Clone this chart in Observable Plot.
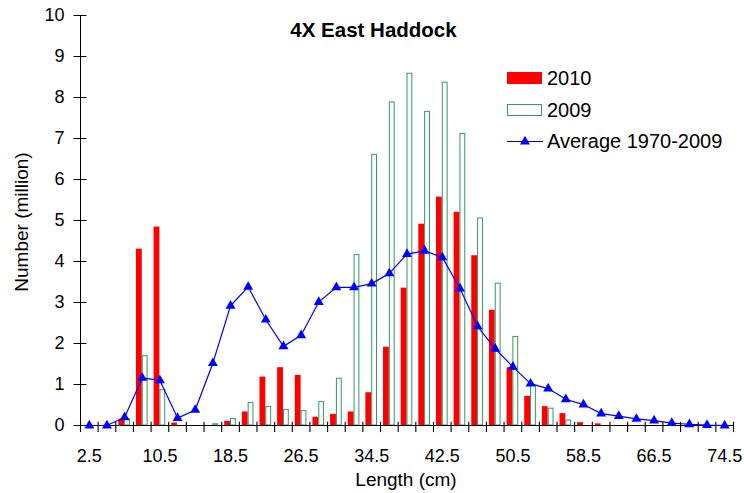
<!DOCTYPE html>
<html><head><meta charset="utf-8">
<script src="https://cdn.jsdelivr.net/npm/d3@7"></script>
<script src="https://cdn.jsdelivr.net/npm/@observablehq/plot@0.6"></script>
<style>
body{margin:0;background:#fff;}
#chart{position:relative;width:744px;height:493px;}
svg{font-family:"Liberation Sans",Arial,sans-serif;}
</style></head><body><div id="chart"></div>
<script>
const title = "4X East Haddock";
const xLabel = "Length (cm)";
const yLabel = "Number (million)";
const seriesNames = ["2010", "2009", "Average 1970-2009"];
const lengths = [2.5, 4.5, 6.5, 8.5, 10.5, 12.5, 14.5, 16.5, 18.5, 20.5, 22.5, 24.5, 26.5, 28.5, 30.5, 32.5, 34.5, 36.5, 38.5, 40.5, 42.5, 44.5, 46.5, 48.5, 50.5, 52.5, 54.5, 56.5, 58.5, 60.5, 62.5, 64.5, 66.5, 68.5, 70.5, 72.5, 74.5];
const n2010 = [0, 0, 0.15, 4.30, 4.84, 0.06, 0, 0, 0.10, 0.33, 1.18, 1.41, 1.22, 0.20, 0.27, 0.33, 0.80, 1.91, 3.35, 4.91, 5.57, 5.20, 4.14, 2.81, 1.41, 0.71, 0.46, 0.29, 0.07, 0.04, 0, 0, 0, 0, 0, 0, 0];
const n2009 = [0, 0, 0.15, 1.69, 0.86, 0, 0, 0.03, 0.16, 0.55, 0.45, 0.38, 0.35, 0.57, 1.14, 4.16, 6.60, 7.88, 8.58, 7.65, 8.36, 7.11, 5.05, 3.46, 2.16, 0.97, 0.41, 0.12, 0, 0, 0, 0, 0, 0, 0, 0, 0];
const avg = [0, 0, 0.20, 1.16, 1.10, 0.18, 0.38, 1.52, 2.92, 3.38, 2.58, 1.93, 2.20, 3.01, 3.37, 3.37, 3.46, 3.71, 4.18, 4.26, 4.10, 3.34, 2.42, 1.87, 1.43, 1.02, 0.90, 0.64, 0.51, 0.29, 0.23, 0.16, 0.12, 0.06, 0.03, 0.01, 0];
const xTickLabels = [2.5, 10.5, 18.5, 26.5, 34.5, 42.5, 50.5, 58.5, 66.5, 74.5];
const yTicks = [0, 1, 2, 3, 4, 5, 6, 7, 8, 9, 10];

const rows = lengths.map((len, i) => ({len, y2010: n2010[i], y2009: n2009[i], avg: avg[i]}));
const bounds = lengths.map(l => l - 1).concat([lengths[lengths.length - 1] + 1]);
const barW = 0.66;
const markerR = 3.7;

const plot = Plot.plot({
  width: 744, height: 493,
  marginLeft: 80, marginRight: 11, marginTop: 15, marginBottom: 68,
  style: {fontFamily: '"Liberation Sans", Arial, sans-serif', fontSize: "18px", color: "#000", background: "#fff"},
  x: {domain: [1.5, 75.5], label: null},
  y: {domain: [0, 10], label: null},
  marks: [
    Plot.rectY(rows.filter(d => d.y2010 > 0), {x1: d => d.len - barW, x2: "len", y: "y2010", fill: "#ff0000"}),
    Plot.rectY(rows.filter(d => d.y2009 > 0), {x1: "len", x2: d => d.len + barW, y: "y2009", fill: "white", stroke: "#339966", strokeWidth: 1, insetLeft: 0.5, insetRight: 0.5}),
    Plot.ruleY([0], {stroke: "#000"}),
    Plot.ruleX([1.5], {stroke: "#000"}),
    Plot.link(bounds, {x1: d => d, x2: d => d, y1: d => -0.16, y2: d => 0.09, stroke: "#000", strokeWidth: 1.1}),
    Plot.axisX(xTickLabels, {tickSize: 0, tickPadding: 24, label: null, fontSize: 18, tickFormat: d3.format(".1f")}),
    Plot.axisY(yTicks, {tickSize: 13, dx: 6.5, tickFormat: () => "", label: null, stroke: "#000"}),
    Plot.axisY(yTicks, {tickSize: 0, tickPadding: 16, label: null, fontSize: 18}),
    Plot.line(rows, {x: "len", y: "avg", stroke: "#0000ff", strokeWidth: 1.2}),
    Plot.dot(rows, {x: "len", y: "avg", symbol: "triangle", r: markerR, fill: "#0000ff"})
  ]
});
document.getElementById("chart").appendChild(plot);

const svg = d3.select(plot);
svg.append("text").attr("x", 373.5).attr("y", 36.5).attr("text-anchor", "middle")
  .attr("font-weight", "bold").attr("font-size", 20.5).attr("fill", "#000").text(title);
svg.append("text").attr("x", 406).attr("y", 486).attr("text-anchor", "middle")
  .attr("font-size", 19).attr("fill", "#000").text(xLabel);
svg.append("text").attr("transform", "translate(28,222) rotate(-90)").attr("text-anchor", "middle")
  .attr("font-size", 19).attr("fill", "#000").text(yLabel);

const lg = svg.append("g").attr("font-size", 20).attr("fill", "#000").attr("text-anchor", "start");
lg.append("rect").attr("x", 507).attr("y", 72).attr("width", 35).attr("height", 12).attr("fill", "#ff0000");
lg.append("text").attr("x", 547).attr("y", 85).text(seriesNames[0]);
lg.append("rect").attr("x", 507.5).attr("y", 104.5).attr("width", 34).attr("height", 11).attr("fill", "white").attr("stroke", "#339966");
lg.append("text").attr("x", 547).attr("y", 117).text(seriesNames[1]);
lg.append("line").attr("x1", 507).attr("x2", 543).attr("y1", 141.5).attr("y2", 141.5).attr("stroke", "#0000ff").attr("stroke-width", 1.2);
lg.append("path").attr("transform", "translate(525,141.5)").attr("d", d3.symbol(d3.symbolTriangle, Math.PI * markerR * markerR)()).attr("fill", "#0000ff");
lg.append("text").attr("x", 547).attr("y", 148).text(seriesNames[2]);
</script></body></html>
